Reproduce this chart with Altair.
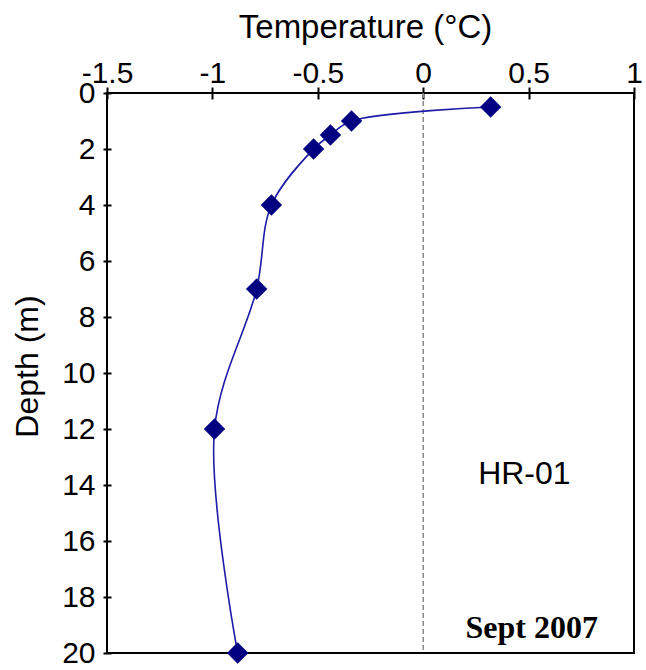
import altair as alt
import pandas as pd

# ---- data ----
temperature = [0.32, -0.34, -0.44, -0.52, -0.72, -0.79, -0.99, -0.88]
depth = [0.5, 1.0, 1.5, 2.0, 4.0, 7.0, 12.0, 20.0]
x_ticks = [-1.5, -1, -0.5, 0, 0.5, 1]
y_ticks = [0, 2, 4, 6, 8, 10, 12, 14, 16, 18, 20]
zero_line = [0]
site_label = ["HR-01"]
site_pos_t = [0.48]
site_pos_d = [13.6]
date_label = ["Sept 2007"]
date_pos_t = [0.515]
date_pos_d = [19.1]

df = pd.DataFrame({"temperature": temperature, "depth": depth})
zero_df = pd.DataFrame({"temperature": zero_line})
site_df = pd.DataFrame({"temperature": site_pos_t, "depth": site_pos_d, "label": site_label})
date_df = pd.DataFrame({"temperature": date_pos_t, "depth": date_pos_d, "label": date_label})

SANS = "Liberation Sans"
SERIF = "Liberation Serif"

xs = alt.Scale(domain=[-1.5, 1], nice=False, zero=False)
ys = alt.Scale(domain=[0, 20], reverse=True, nice=False, zero=False)

x_axis = alt.Axis(
    orient="top", values=x_ticks, labelExpr="datum.value + ''",
    domain=False, offset=-6, tickSize=12, tickColor="black", tickWidth=2,
    labelFont=SANS, labelFontSize=30, labelColor="black", labelPadding=5,
    labelBaseline="alphabetic", labelFlush=False, labelOverlap=False, grid=False,
    title="Temperature (°C)", titleFont=SANS, titleFontSize=33,
    titleFontWeight="normal", titleColor="black", titleX=258, titleY=-62,
    titleBaseline="alphabetic", titleAlign="center",
)
y_axis = alt.Axis(
    orient="left", values=y_ticks, domain=False, offset=-4, tickSize=8,
    tickColor="black", tickWidth=2, labelFont=SANS, labelFontSize=30,
    labelColor="black", labelPadding=8, labelBaseline="middle",
    labelOverlap=False, grid=False,
    title="Depth (m)", titleFont=SANS, titleFontSize=32, titleFontWeight="normal",
    titleColor="black", titleAngle=-90, titleX=-74, titleY=273,
    titleBaseline="alphabetic", titleAlign="center",
)

X = alt.X("temperature:Q", scale=xs, axis=x_axis)
Y = alt.Y("depth:Q", scale=ys, axis=y_axis)

rule = alt.Chart(zero_df).mark_rule(
    color="#8a8a8a", strokeDash=[5, 3], strokeWidth=1.5
).encode(x=X)

line = alt.Chart(df).mark_line(
    interpolate="catmull-rom", color="#1c1ca8", strokeWidth=1.6
).encode(x=X, y=Y, order="depth:Q")

points = alt.Chart(df).mark_point(
    shape="diamond", filled=True, size=460, color="#000080", opacity=1
).encode(x=X, y=Y)

site = alt.Chart(site_df).mark_text(
    font=SANS, fontSize=32, color="black", baseline="middle", align="center"
).encode(x=X, y=Y, text="label:N")

date = alt.Chart(date_df).mark_text(
    font=SERIF, fontSize=32, fontWeight="bold", color="black",
    baseline="middle", align="center"
).encode(x=X, y=Y, text="label:N")

chart = alt.layer(rule, line, points, site, date).properties(
    width=527, height=560,
    autosize=alt.AutoSizeParams(type="none"),
    padding={"left": 107, "top": 93, "right": 12, "bottom": 17},
    background="white",
).configure_view(stroke="black", strokeWidth=2)

chart.save("out.html", embed_options={"renderer": "svg", "actions": False})
